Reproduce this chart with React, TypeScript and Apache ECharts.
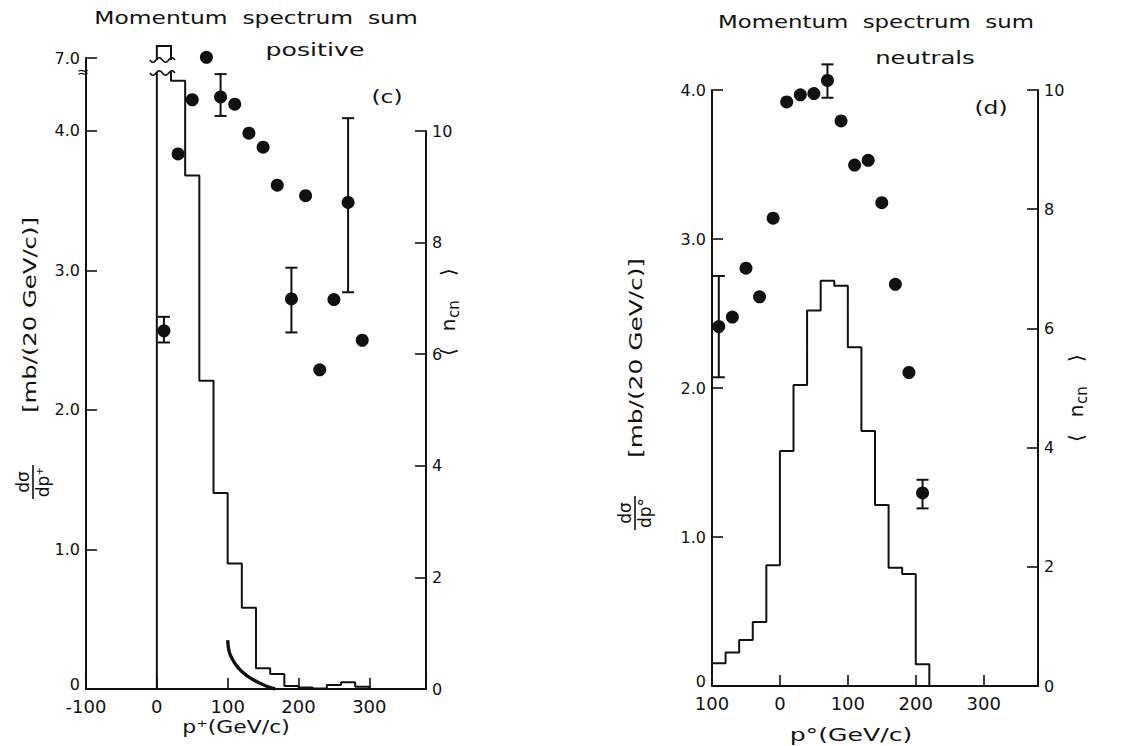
import React, { useEffect, useRef } from "react";
import * as echarts from "echarts";

// ---------------- data ----------------
const X_TICKS = [-100, 0, 100, 200, 300];
const POS_X_LABELS = ["-100", "0", "100", "200", "300"];
const NEU_X_LABELS = ["100", "0", "100", "200", "300"];

const SIGMA_TICKS = [0, 1, 2, 3, 4];
const SIGMA_LABELS = ["0", "1.0", "2.0", "3.0", "4.0"];
const POS_BREAK_LABEL = "7.0";
const POS_SIGMA_AXIS_TOP = 4.523; // broken axis, its top is labelled 7.0

const NCN_TICKS = [0, 2, 4, 6, 8, 10];
const NCN_LABELS = ["0", "2", "4", "6", "8", "10"];

const BIN_WIDTH = 20;

// (c) positive
const POS_BIN_START = [0, 20, 40, 60, 80, 100, 120, 140, 160, 180, 200, 220, 240, 260, 280];
const POS_HIST = [7.4, 4.36, 3.68, 2.21, 1.405, 0.9, 0.583, 0.148, 0.108, 0.022, 0.01, 0.004, 0.029, 0.048, 0.016];
const POS_NCN_P = [10, 30, 50, 70, 90, 110, 130, 150, 170, 190, 210, 230, 250, 270, 290];
const POS_NCN = [6.42, 9.59, 10.56, 11.32, 10.61, 10.48, 9.96, 9.71, 9.03, 6.99, 8.84, 5.72, 6.98, 8.72, 6.25];
const POS_ERR_P = [10, 90, 190, 270];
const POS_ERR_LO = [6.21, 10.27, 6.39, 7.11];
const POS_ERR_HI = [6.67, 11.02, 7.55, 10.23];
const POS_CURVE_P = [100, 102, 106, 112, 120, 130, 142, 155, 167];
const POS_CURVE = [0.35, 0.27, 0.22, 0.17, 0.125, 0.085, 0.05, 0.02, 0];

// (d) neutrals
const NEU_BIN_START = [-100, -80, -60, -40, -20, 0, 20, 40, 60, 80, 100, 120, 140, 160, 180, 200];
const NEU_HIST = [0.152, 0.224, 0.309, 0.43, 0.81, 1.577, 2.02, 2.52, 2.72, 2.687, 2.273, 1.711, 1.215, 0.794, 0.752, 0.146];
const NEU_NCN_P = [-90, -70, -50, -30, -10, 10, 30, 50, 70, 90, 110, 130, 150, 170, 190, 210];
const NEU_NCN = [6.03, 6.19, 7.01, 6.53, 7.85, 9.8, 9.92, 9.94, 10.16, 9.48, 8.74, 8.82, 8.11, 6.74, 5.26, 3.24];
const NEU_ERR_P = [-90, 70, 210];
const NEU_ERR_LO = [5.18, 9.87, 2.98];
const NEU_ERR_HI = [6.88, 10.43, 3.46];

// ---------------- styling ----------------
const INK = "#111111";
const FONT = "DejaVu Sans";

function steps(starts: number[], vals: number[]) {
  const pts: number[][] = [[starts[0], 0]];
  starts.forEach((s, i) => {
    pts.push([s, vals[i]]);
    pts.push([s + BIN_WIDTH, vals[i]]);
  });
  pts.push([starts[starts.length - 1] + BIN_WIDTH, 0]);
  return pts;
}

function lookup(ticks: number[], labels: string[]) {
  return (v: number) => {
    const i = ticks.findIndex((t) => Math.abs(t - v) < 1e-6);
    return i >= 0 ? labels[i] : "";
  };
}

// the lowest label of a left axis is lifted a little so it clears the x labels
function liftZero(fmt: (v: number) => string) {
  return (v: number) => {
    const s = fmt(v);
    return Math.abs(v) < 1e-9 && s ? `{lo|${s}}` : s;
  };
}

function xAxisCfg(gridIndex: number, labels: string[], show = true) {
  return {
    type: "value",
    gridIndex,
    show,
    min: -100,
    max: 380,
    interval: 100,
    axisLine: { show: true, onZero: false, lineStyle: { color: INK, width: 2 } },
    axisTick: { show: true, inside: true, length: 11, lineStyle: { color: INK, width: 1.6 } },
    axisLabel: {
      color: INK,
      fontSize: 18,
      lineHeight: 16,
      fontFamily: FONT,
      margin: 9,
      showMinLabel: true,
      showMaxLabel: true,
      formatter: lookup(X_TICKS, labels),
    },
    splitLine: { show: false },
  };
}

function yAxisCfg(gridIndex: number, position: string, max: number, interval: number, fmt: (v: number) => string) {
  return {
    type: "value",
    gridIndex,
    position,
    min: 0,
    max,
    interval,
    axisLine: { show: true, onZero: false, lineStyle: { color: INK, width: 2 } },
    axisTick: { show: true, inside: true, length: 11, lineStyle: { color: INK, width: 1.6 } },
    axisLabel: {
      color: INK,
      fontSize: 16,
      lineHeight: 13,
      fontFamily: FONT,
      margin: 6,
      showMinLabel: true,
      showMaxLabel: true,
      formatter: fmt,
      rich: { lo: { fontSize: 16, fontFamily: FONT, color: INK, lineHeight: 13, padding: [0, 0, 9, 0] } },
    },
    splitLine: { show: false },
  };
}

function errorSeries(xAxisIndex: number, yAxisIndex: number, p: number[], lo: number[], hi: number[]) {
  return {
    type: "custom",
    xAxisIndex,
    yAxisIndex,
    clip: false,
    z: 4,
    data: p.map((x, i) => [x, lo[i], hi[i]]),
    encode: { x: 0, y: [1, 2] },
    renderItem: (_params: any, api: any) => {
      const x = api.value(0);
      const a = api.coord([x, api.value(1)]);
      const b = api.coord([x, api.value(2)]);
      const c = 6;
      const st = { stroke: INK, lineWidth: 2 };
      return {
        type: "group",
        children: [
          { type: "line", shape: { x1: a[0], y1: a[1], x2: b[0], y2: b[1] }, style: st },
          { type: "line", shape: { x1: a[0] - c, y1: a[1], x2: a[0] + c, y2: a[1] }, style: st },
          { type: "line", shape: { x1: b[0] - c, y1: b[1], x2: b[0] + c, y2: b[1] }, style: st },
        ],
      };
    },
  };
}

function wave(y: number, xa: number, xb: number) {
  const pts: number[][] = [];
  const n = 24;
  for (let k = 0; k <= n; k++) {
    const f = k / n;
    pts.push([xa + (xb - xa) * f, y + 2.2 * Math.sin(f * Math.PI * 4)]);
  }
  return { type: "polyline", shape: { points: pts }, style: { stroke: INK, lineWidth: 1.6, fill: null } };
}

function vText(x: number, y: number, children: any[]) {
  return { type: "group", x, y, rotation: Math.PI / 2, children };
}

function t(text: string, x: number, y: number, fontSize: number, scaleX = 1, align = "center") {
  return {
    type: "text",
    x,
    y,
    scaleX,
    style: {
      text,
      fill: INK,
      font: `${fontSize}px "${FONT}"`,
      textAlign: align,
      textVerticalAlign: "middle",
      align,
      verticalAlign: "middle",
    },
  };
}

function ncnName(x: number, y: number) {
  return vText(x, y, [
    t("⟨", -42, 0, 20),
    t("n", -15, 0, 20),
    t("cn", -8, 6, 15, 1, "left"),
    t("⟩", 38, 0, 20),
  ]);
}

function fraction(x: number, y: number, den: string) {
  return vText(x, y, [
    t("dσ", 0, -10, 17),
    { type: "line", shape: { x1: -17, y1: 0, x2: 17, y2: 0 }, style: { stroke: INK, lineWidth: 1.6 } },
    t(den, 0, 10, 17),
  ]);
}

const option: any = {
  animation: false,
  backgroundColor: "#ffffff",
  textStyle: { fontFamily: FONT, color: INK },
  grid: [
    { left: 86, top: 58, width: 340, height: 631 },
    { left: 86, top: 131, width: 340, height: 558 },
    { left: 712, top: 90, width: 326, height: 596 },
  ],
  xAxis: [xAxisCfg(0, POS_X_LABELS), xAxisCfg(1, POS_X_LABELS, false), xAxisCfg(2, NEU_X_LABELS)],
  yAxis: [
    yAxisCfg(
      0,
      "left",
      POS_SIGMA_AXIS_TOP,
      1,
      liftZero((v: number) =>
        v > SIGMA_TICKS[SIGMA_TICKS.length - 1] + 0.2 ? POS_BREAK_LABEL : lookup(SIGMA_TICKS, SIGMA_LABELS)(v)
      )
    ),
    yAxisCfg(1, "right", 10, 2, lookup(NCN_TICKS, NCN_LABELS)),
    yAxisCfg(2, "left", 4, 1, liftZero(lookup(SIGMA_TICKS, SIGMA_LABELS))),
    yAxisCfg(2, "right", 10, 2, lookup(NCN_TICKS, NCN_LABELS)),
  ],
  series: [
    {
      type: "line",
      xAxisIndex: 0,
      yAxisIndex: 0,
      data: steps(POS_BIN_START, POS_HIST),
      symbol: "none",
      lineStyle: { color: INK, width: 2 },
      z: 2,
    },
    {
      type: "line",
      xAxisIndex: 0,
      yAxisIndex: 0,
      data: POS_CURVE_P.map((p, i) => [p, POS_CURVE[i]]),
      symbol: "none",
      smooth: 0.4,
      lineStyle: { color: INK, width: 3.4 },
      z: 2,
    },
    {
      type: "custom",
      xAxisIndex: 0,
      yAxisIndex: 0,
      clip: false,
      z: 5,
      data: [[POS_BIN_START[0], POS_BIN_START[0] + BIN_WIDTH, POS_SIGMA_AXIS_TOP]],
      encode: { x: [0, 1], y: 2 },
      renderItem: (params: any, api: any) => {
        const x0 = api.coord([api.value(0), 0])[0];
        const x1 = api.coord([api.value(1), 0])[0];
        const cs = params.coordSys;
        const top = cs.y;
        return {
          type: "group",
          children: [
            { type: "rect", shape: { x: x0 - 10, y: top - 16, width: x1 - x0 + 16, height: 30 }, style: { fill: "#fff" } },
            {
              type: "polyline",
              shape: { points: [[x0, top + 2], [x0, top - 12], [x1, top - 12], [x1, top + 2]] },
              style: { stroke: INK, lineWidth: 2, fill: null },
            },
            wave(top + 2, x0 - 7, x1 + 4),
            wave(top + 15, x0 - 7, x1 + 4),
            {
              type: "text",
              x: cs.x - 3,
              y: top + 14,
              style: { text: "≈", fill: INK, font: `15px "${FONT}"`, align: "center", verticalAlign: "middle", textAlign: "center", textVerticalAlign: "middle" },
            },
          ],
        };
      },
    },
    errorSeries(1, 1, POS_ERR_P, POS_ERR_LO, POS_ERR_HI),
    {
      type: "scatter",
      xAxisIndex: 1,
      yAxisIndex: 1,
      clip: false,
      symbol: "circle",
      symbolSize: 13,
      itemStyle: { color: INK, opacity: 1 },
      data: POS_NCN_P.map((p, i) => [p, POS_NCN[i]]),
      z: 6,
    },
    {
      type: "line",
      xAxisIndex: 2,
      yAxisIndex: 2,
      data: steps(NEU_BIN_START, NEU_HIST),
      symbol: "none",
      lineStyle: { color: INK, width: 2 },
      z: 2,
    },
    errorSeries(2, 3, NEU_ERR_P, NEU_ERR_LO, NEU_ERR_HI),
    {
      type: "scatter",
      xAxisIndex: 2,
      yAxisIndex: 3,
      clip: false,
      symbol: "circle",
      symbolSize: 13,
      itemStyle: { color: INK, opacity: 1 },
      data: NEU_NCN_P.map((p, i) => [p, NEU_NCN[i]]),
      z: 6,
    },
  ],
  graphic: [
    t("Momentum  spectrum  sum", 256, 18, 18, 1.3),
    t("positive", 315, 50, 18, 1.4),
    t("(c)", 387, 97, 18, 1.3),
    t("Momentum  spectrum  sum", 876, 22, 18, 1.27),
    t("neutrals", 925, 58, 18, 1.35),
    t("(d)", 991, 108, 18, 1.3),
    t("p⁺(GeV/c)", 236, 727, 18, 1.22),
    t("p°(GeV/c)", 851, 735, 18, 1.4),
    vText(30, 315, [t("[mb/(20 GeV/c)]", 0, 0, 18, 1.35)]),
    vText(636, 358, [t("[mb/(20 GeV/c)]", 0, 0, 18, 1.38)]),
    fraction(33, 482, "dp⁺"),
    fraction(635, 513, "dp°"),
    ncnName(448, 310),
    ncnName(1076, 396),
  ],
};

export default function App() {
  const ref = useRef<HTMLDivElement>(null);
  useEffect(() => {
    if (!ref.current) return;
    const chart = echarts.init(ref.current, undefined, { renderer: "svg" });
    chart.setOption(option);
    return () => chart.dispose();
  }, []);
  return (
    <div
      ref={ref}
      style={{ position: "fixed", left: 0, top: 0, width: 1135, height: 746, background: "#fff" }}
    />
  );
}
